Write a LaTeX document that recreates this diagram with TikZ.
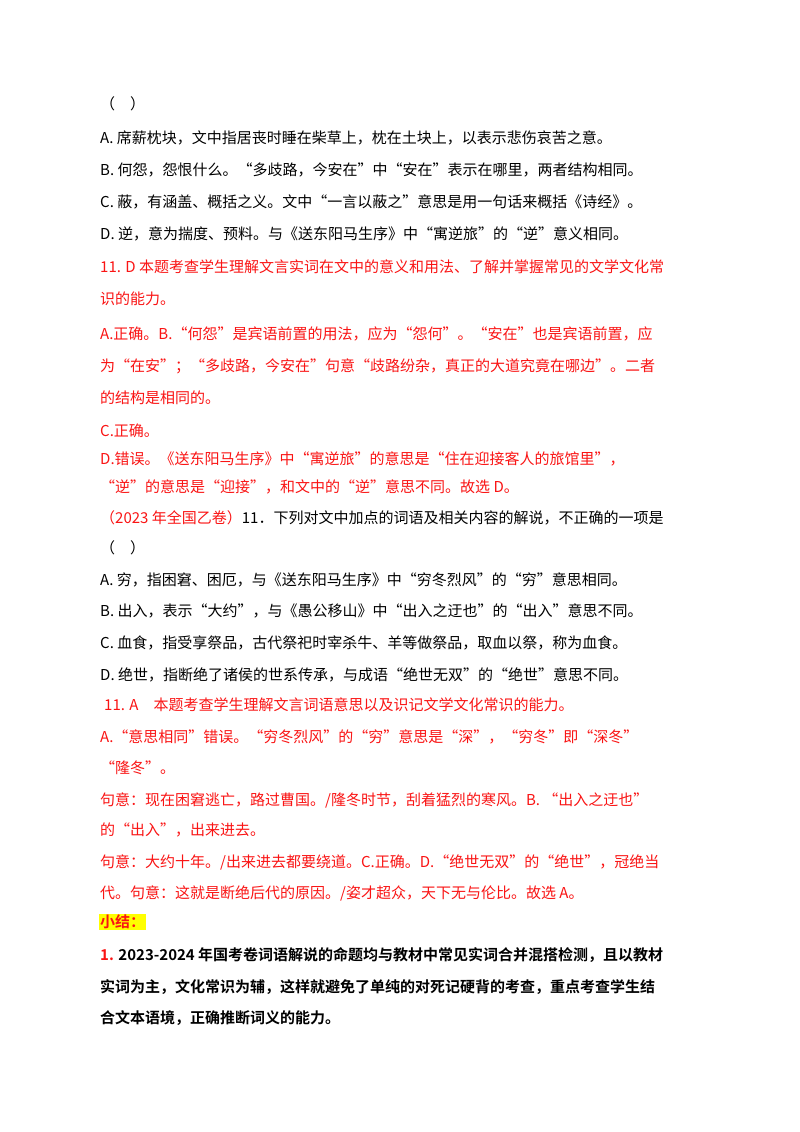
\documentclass[tikz,border=0pt]{standalone}
\usepackage{fontspec}
\setmainfont{Noto Sans CJK SC}
\newfontfamily\cjkb{Noto Sans CJK SC Bold}
\definecolor{ared}{RGB}{250,20,20}
\definecolor{hl}{RGB}{255,255,0}
\begin{document}
\begin{tikzpicture}[x=1pt,y=1pt,
  ln/.style={anchor=west,inner sep=0pt,font=\fontsize{15}{18}\selectfont},
  rd/.style={ln,text=ared}]
\useasboundingbox[fill=white] (0,0) rectangle (800,-1132);
\node[ln] (l1) at (100,-104) {（\quad ）};
\node[ln] (l2) at (100,-138) {A. 席薪枕块，文中指居丧时睡在柴草上，枕在土块上，以表示悲伤哀苦之意。};
\node[ln] (l3) at (100,-170) {B. 何怨，怨恨什么。“多歧路，今安在”中“安在”表示在哪里，两者结构相同。};
\node[ln] (l4) at (100,-202) {C. 蔽，有涵盖、概括之义。文中“一言以蔽之”意思是用一句话来概括《诗经》。};
\node[ln] (l5) at (100,-234) {D. 逆，意为揣度、预料。与《送东阳马生序》中“寓逆旅”的“逆”意义相同。};
\node[rd] (l6) at (100,-267) {11. D 本题考查学生理解文言实词在文中的意义和用法、了解并掌握常见的文学文化常};
\node[rd] (l7) at (100,-299) {识的能力。};
\node[rd] (l8) at (100,-334) {A.正确。B.“何怨”是宾语前置的用法，应为“怨何”。“安在”也是宾语前置，应};
\node[rd] (l9) at (100,-366) {为“在安”；“多歧路，今安在”句意“歧路纷杂，真正的大道究竟在哪边”。二者};
\node[rd] (l10) at (100,-398) {的结构是相同的。};
\node[rd] (l11) at (100,-431) {C.正确。};
\node[rd] (l12) at (100,-459) {D.错误。《送东阳马生序》中“寓逆旅”的意思是“住在迎接客人的旅馆里”，};
\node[rd] (l13) at (100,-487) {“逆”的意思是“迎接”，和文中的“逆”意思不同。故选 D。};
\node[ln] (l14) at (100,-518) {{\color{ared}（2023 年全国乙卷）}11．下列对文中加点的词语及相关内容的解说，不正确的一项是};
\node[ln] (l15) at (100,-548) {（\quad ）};
\node[ln] (l16) at (100,-580) {A. 穷，指困窘、困厄，与《送东阳马生序》中“穷冬烈风”的“穷”意思相同。};
\node[ln] (l17) at (100,-611) {B. 出入，表示“大约”，与《愚公移山》中“出入之迂也”的“出入”意思不同。};
\node[ln] (l18) at (100,-643) {C. 血食，指受享祭品，古代祭祀时宰杀牛、羊等做祭品，取血以祭，称为血食。};
\node[ln] (l19) at (100,-675) {D. 绝世，指断绝了诸侯的世系传承，与成语“绝世无双”的“绝世”意思不同。};
\node[rd] (l20) at (104,-705) {11. A\quad 本题考查学生理解文言词语意思以及识记文学文化常识的能力。};
\node[rd] (l21) at (100,-737) {A.“意思相同”错误。“穷冬烈风”的“穷”意思是“深”，“穷冬”即“深冬”};
\node[rd] (l22) at (100,-768) {“隆冬”。};
\node[rd] (l23) at (100,-800) {句意：现在困窘逃亡，路过曹国。/隆冬时节，刮着猛烈的寒风。B. “出入之迂也”};
\node[rd] (l24) at (100,-830) {的“出入”，出来进去。};
\node[rd] (l25) at (100,-862) {句意：大约十年。/出来进去都要绕道。C.正确。D.“绝世无双”的“绝世”，冠绝当};
\node[rd] (l26) at (100,-893) {代。句意：这就是断绝后代的原因。/姿才超众，天下无与伦比。故选 A。};
\node[rd,fill=hl,inner sep=1pt,font=\fontsize{15}{18}\cjkb] (l27) at (99,-922) {小结：};
\node[ln,font=\fontsize{15}{18}\cjkb] (l28) at (100,-955) {{\color{ared}1.} 2023-2024 年国考卷词语解说的命题均与教材中常见实词合并混搭检测，且以教材};
\node[ln,font=\fontsize{15}{18}\cjkb] (l29) at (100,-987) {实词为主，文化常识为辅，这样就避免了单纯的对死记硬背的考查，重点考查学生结};
\node[ln,font=\fontsize{15}{18}\cjkb] (l30) at (100,-1018) {合文本语境，正确推断词义的能力。};
\end{tikzpicture}
\end{document}
